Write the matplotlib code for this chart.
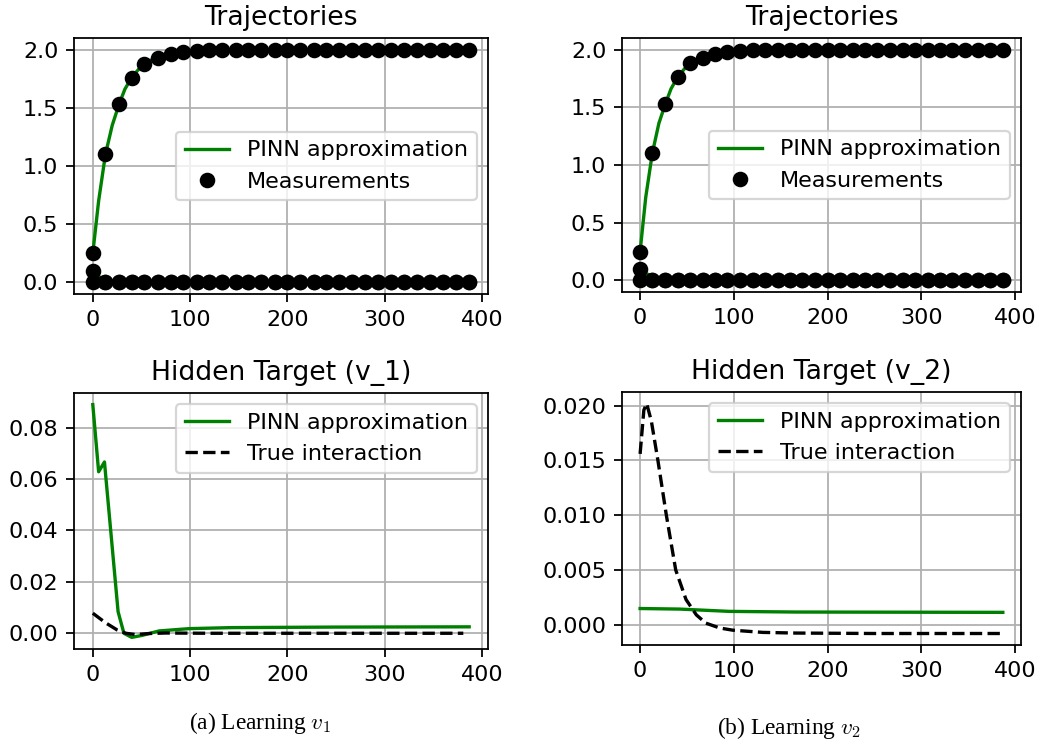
import matplotlib
matplotlib.use("Agg")
import matplotlib.pyplot as plt

# measurement times and observed trajectories
t_meas = [0, 13, 27, 40, 53, 67, 80, 93, 107, 120, 133, 147, 160, 173, 187,
          200, 213, 227, 240, 253, 267, 280, 293, 307, 320, 333, 347, 360, 373, 387]
x1_meas = [0.25, 1.10, 1.53, 1.76, 1.88, 1.93, 1.96, 1.98, 1.99, 2.0, 2.0, 2.0, 2.0, 2.0, 2.0,
           2.0, 2.0, 2.0, 2.0, 2.0, 2.0, 2.0, 2.0, 2.0, 2.0, 2.0, 2.0, 2.0, 2.0, 2.0]
x2_meas = [0.10] + [0.0] * 29
x3_meas = [0.0] * 30

# PINN trajectories
t_pinn = [0, 6, 13, 20, 27, 33, 40, 47, 53, 60, 67, 80, 93, 107, 130, 200, 300, 387]
x1_pinn_a = [0.25, 0.70, 1.10, 1.35, 1.53, 1.66, 1.76, 1.83, 1.88, 1.91, 1.93, 1.96, 1.98, 1.99, 2.0, 2.0, 2.0, 2.0]
x2_pinn_a = [0.10, 0.05, 0.02, 0.01, 0.0, 0.0, 0.0, 0.0, 0.0, 0.0, 0.0, 0.0, 0.0, 0.0, 0.0, 0.0, 0.0, 0.0]
x1_pinn_b = [0.25, 0.72, 1.10, 1.36, 1.53, 1.66, 1.76, 1.83, 1.88, 1.91, 1.93, 1.96, 1.98, 1.99, 2.0, 2.0, 2.0, 2.0]
x2_pinn_b = [0.10, 0.06, 0.04, 0.017, 0.005, 0.0, 0.0, 0.0, 0.0, 0.0, 0.0, 0.0, 0.0, 0.0, 0.0, 0.0, 0.0, 0.0]

# hidden target v_1
t_v1_pinn = [0, 6, 12, 26, 32, 40, 51, 68, 99, 143, 247, 387]
v1_pinn = [0.0889, 0.0628, 0.0666, 0.0084, 0.0, -0.0016, -0.0008, 0.0009, 0.0018, 0.0022, 0.0024, 0.0025]
t_v1_true = [0, 13, 25, 34, 44, 58, 75, 120, 381]
v1_true = [0.0078, 0.0041, 0.0013, 0.0, -0.0005, -0.0001, 0.0001, 0.0, 0.0]

# hidden target v_2
t_v2_pinn = [0, 42, 95, 166, 387]
v2_pinn = [0.00148, 0.00143, 0.00122, 0.00116, 0.00113]
t_v2_true = [0, 4, 7, 12, 19, 28, 38, 49, 60, 70, 85, 99, 131, 166, 250, 386]
v2_true = [0.0156, 0.0196, 0.0202, 0.0186, 0.0150, 0.0100, 0.0050, 0.0023, 0.0009, 0.00015,
           -0.0003, -0.0005, -0.0007, -0.00076, -0.0008, -0.0008]

plt.rcParams['font.family'] = ['DejaVu Sans']

# default matplotlib sizes, rendered at 160 dpi
fig = plt.figure(figsize=(1042 / 160, 746 / 160))
ax_tl = fig.add_axes([0.0710, 0.6059, 0.3973, 0.3432])
ax_bl = fig.add_axes([0.0710, 0.1300, 0.3973, 0.3432])
ax_tr = fig.add_axes([0.5969, 0.6086, 0.3829, 0.3405])
ax_br = fig.add_axes([0.5969, 0.1354, 0.3829, 0.3391])

green = "green"

for ax, x1p, x2p in [(ax_tl, x1_pinn_a, x2_pinn_a), (ax_tr, x1_pinn_b, x2_pinn_b)]:
    ax.plot(t_pinn, x1p, color=green, label="PINN approximation")
    ax.plot(t_pinn, x2p, color=green)
    ax.plot(t_meas, x1_meas, "o", color="black", label="Measurements")
    ax.plot(t_meas, x2_meas, "o", color="black")
    ax.plot(t_meas, x3_meas, "o", color="black")
    ax.set_title("Trajectories")
    ax.legend(loc="center right")

ax_bl.plot(t_v1_pinn, v1_pinn, color=green, label="PINN approximation")
ax_bl.plot(t_v1_true, v1_true, "--", color="black", label="True interaction")
ax_bl.set_title("Hidden Target (v_1)")
ax_bl.legend(loc="upper right")

ax_br.plot(t_v2_pinn, v2_pinn, color=green, label="PINN approximation")
ax_br.plot(t_v2_true, v2_true, "--", color="black", label="True interaction")
ax_br.set_title("Hidden Target (v_2)")
ax_br.legend(loc="upper right")

for ax in [ax_tl, ax_bl, ax_tr, ax_br]:
    ax.grid(True)
    ax.set_xticks([0, 100, 200, 300, 400])

ax_bl.set_yticks([0.0, 0.02, 0.04, 0.06, 0.08])
ax_br.set_yticks([0.0, 0.005, 0.01, 0.015, 0.02])

fig.text(0.2495, 0.031, r"(a) Learning $v_1$", ha="center", va="center",
         family="Liberation Serif", fontsize=10.5, math_fontfamily="cm")
fig.text(0.757, 0.024, r"(b) Learning $v_2$", ha="center", va="center",
         family="Liberation Serif", fontsize=10.5, math_fontfamily="cm")

fig.savefig("out.png", dpi=160)
